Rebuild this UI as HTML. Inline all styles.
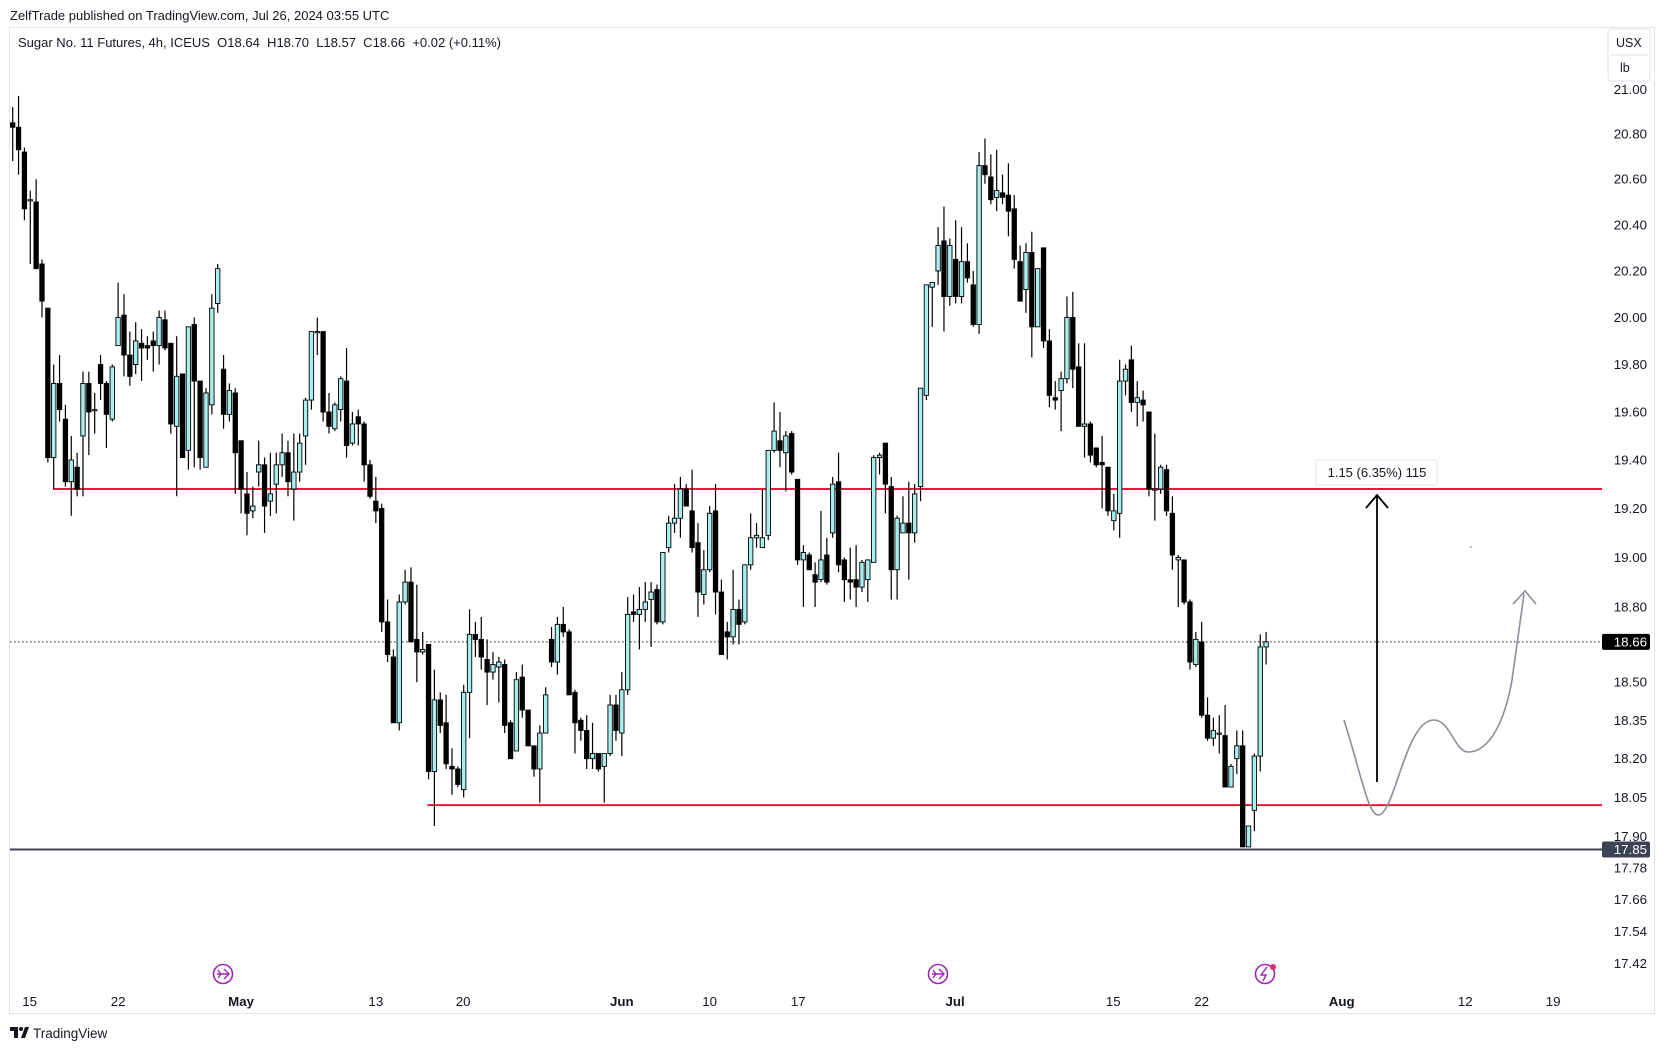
<!DOCTYPE html>
<html><head><meta charset="utf-8"><style>
html,body{margin:0;padding:0;background:#fff;}
svg{display:block;font-family:"Liberation Sans",sans-serif;}
</style></head><body>
<svg id="chart" width="1666" height="1050" viewBox="0 0 1666 1050" xmlns="http://www.w3.org/2000/svg">
<rect x="0" y="0" width="1666" height="1050" fill="#fff"/>
<text x="10" y="20" font-size="13" fill="#131722">ZelfTrade published on TradingView.com, Jul 26, 2024 03:55 UTC</text>
<rect x="9.5" y="27.5" width="1645" height="986" fill="none" stroke="#e0e3eb" stroke-width="1"/>
<text x="18" y="47" font-size="13" fill="#131722" style="white-space:pre" xml:space="preserve">Sugar No. 11 Futures, 4h, ICEUS  O18.64  H18.70  L18.57  C18.66  +0.02 (+0.11%)</text>
<g>
<rect x="1608" y="29" width="42" height="52" rx="3" fill="#fff" stroke="#e0e3eb"/>
<line x1="1610" y1="55" x2="1648" y2="55" stroke="#e0e3eb"/>
<text x="1616" y="47" font-size="12.5" fill="#131722">USX</text>
<text x="1620" y="72" font-size="12.5" fill="#131722">lb</text>
</g>
<g id="grid"></g>
<g id="lines"></g>
<g id="candles"></g>
<g id="yaxis"></g>
<g id="xaxis"></g>
<g>
<path d="M1344,720 C1360,770 1368,815 1378,815 C1395,815 1405,720 1434,720 C1450,720 1455,752 1468,752 C1490,752 1505,720 1512,680 L1524,594" fill="none" stroke="#8a8e99" stroke-width="1.6"/>
<path d="M1513,604 L1525,591 L1536,604" fill="none" stroke="#8a8e99" stroke-width="1.6"/>
<circle cx="1471" cy="547" r="0.9" fill="#8a8e99"/>
</g>
<g>
<line x1="1377" y1="782" x2="1377" y2="496" stroke="#000" stroke-width="1.8"/>
<path d="M1366,508 L1377,495 L1388,508" fill="none" stroke="#000" stroke-width="1.8"/>
<rect x="1316" y="460" width="121" height="25" rx="2" fill="#fff" stroke="#e0e3eb"/>
<text x="1377" y="477" font-size="13" text-anchor="middle" fill="#131722">1.15 (6.35%) 115</text>
</g>
<g>
<circle cx="223" cy="974" r="9.5" fill="#fff" stroke="#9c27b0" stroke-width="1.6"/>
<path d="M217,974 L229,974 M224,969 L229,974 L224,979 M218,970 L221,974 L218,978" fill="none" stroke="#9c27b0" stroke-width="1.4"/>
<circle cx="938" cy="974" r="9.5" fill="#fff" stroke="#9c27b0" stroke-width="1.6"/>
<path d="M932,974 L944,974 M939,969 L944,974 L939,979 M933,970 L936,974 L933,978" fill="none" stroke="#9c27b0" stroke-width="1.4"/>
<circle cx="1265" cy="974" r="9.5" fill="#fff" stroke="#9c27b0" stroke-width="1.6"/>
<path d="M1267,967 L1261,975 L1266,975 L1263,981" fill="none" stroke="#9c27b0" stroke-width="1.4"/>
<circle cx="1273" cy="967" r="3" fill="#f0286c"/>
</g>
<g>
<path d="M10,1027 h8 v11 h-4 v-7 h-4 z M21,1038 l4,-11 h4 l-4,11 z" fill="#131722"/>
<circle cx="21" cy="1029" r="2" fill="#131722"/>
<text x="33" y="1038" font-size="13.5" fill="#131722">TradingView</text>
</g>
</svg>
<script>
const opens=[20.85,20.83,20.72,20.51,20.50,20.23,20.04,19.41,19.72,19.57,19.31,19.37,19.50,19.72,19.61,19.80,19.72,19.57,19.88,20.01,19.84,19.80,19.89,19.88,19.90,19.88,19.99,19.89,19.54,19.76,19.44,19.97,19.73,19.37,19.63,20.06,19.78,19.59,19.68,19.48,19.26,19.19,19.35,19.38,19.23,19.30,19.38,19.43,19.28,19.35,19.50,19.65,19.94,19.94,19.60,19.53,
19.61,19.73,19.47,19.58,19.55,19.38,19.23,19.20,18.74,18.60,18.34,18.82,18.90,18.67,18.62,18.65,18.15,18.43,18.34,18.17,18.16,18.08,18.46,18.69,18.67,18.59,18.54,18.56,18.57,18.34,18.23,18.52,18.39,18.25,18.16,18.30,18.67,18.58,18.73,18.70,18.46,18.35,18.31,18.20,18.22,18.17,18.22,18.41,18.30,18.47,18.78,18.77,18.79,18.83,18.87,
18.74,19.04,19.14,19.16,19.28,19.19,19.06,18.85,18.95,19.19,18.86,18.70,18.68,18.79,18.74,18.97,19.08,19.04,19.09,19.44,19.48,19.43,19.51,19.32,18.99,19.01,18.93,18.91,19.01,19.10,19.31,18.99,18.91,18.91,18.88,18.91,18.98,19.41,19.47,19.29,18.95,19.10,19.14,19.10,19.29,19.67,20.13,20.20,20.33,20.09,20.25,20.09,20.24,20.14,19.97,
20.66,20.61,20.52,20.54,20.53,20.47,20.24,20.12,20.28,19.96,20.30,19.90,19.66,19.69,19.74,20.00,19.79,19.54,19.55,19.45,19.39,19.37,19.15,19.18,19.73,19.82,19.64,19.65,19.60,19.28,19.28,19.36,19.18,18.99,18.99,18.82,18.57,18.66,18.37,18.28,18.30,18.29,18.09,18.20,18.25,17.86,18.00,18.21,18.64];
const highs=[20.92,20.97,20.74,20.55,20.60,20.25,20.04,19.80,19.84,19.63,19.50,19.43,19.77,19.77,19.68,19.84,19.73,19.80,20.15,20.10,19.94,19.98,19.95,19.92,19.94,20.03,20.03,19.89,19.92,19.76,19.96,20.00,19.73,19.70,20.10,20.23,19.84,19.72,19.70,19.48,19.35,19.29,19.48,19.41,19.43,19.43,19.51,19.48,19.51,19.51,19.66,19.94,20.00,19.94,19.68,19.64,
19.75,19.87,19.60,19.61,19.56,19.40,19.33,19.22,18.83,18.63,18.85,18.95,18.96,18.89,18.70,18.65,18.55,18.46,18.45,18.24,18.17,18.49,18.79,18.74,18.76,18.67,18.62,18.60,18.59,18.35,18.54,18.57,18.39,18.25,18.33,18.48,18.72,18.76,18.80,18.71,18.47,18.36,18.37,18.34,18.22,18.22,18.45,18.45,18.54,18.84,18.85,18.88,18.90,18.90,18.89,
19.02,19.17,19.30,19.33,19.30,19.36,19.14,19.03,19.21,19.30,18.91,18.74,18.95,18.83,18.97,19.18,19.14,19.28,19.44,19.64,19.60,19.52,19.52,19.32,19.05,19.02,18.98,19.19,19.08,19.33,19.43,19.00,19.04,19.05,18.99,18.99,19.42,19.43,19.47,19.33,19.17,19.25,19.31,19.30,19.70,20.14,20.15,20.39,20.48,20.34,20.42,20.39,20.32,20.20,20.72,
20.78,20.71,20.73,20.62,20.67,20.53,20.31,20.32,20.37,20.21,20.30,19.95,19.73,19.77,20.09,20.11,19.89,19.89,19.56,19.45,19.50,19.37,19.26,19.82,19.80,19.88,19.73,19.69,19.60,19.51,19.38,19.38,19.25,19.01,18.99,18.83,18.70,18.74,18.44,18.36,18.37,18.41,18.18,18.31,18.31,17.94,18.22,18.69,18.70];
const lows=[20.68,20.62,20.42,20.23,20.21,20.00,19.39,19.28,19.56,19.29,19.17,19.25,19.25,19.42,19.51,19.65,19.45,19.56,19.88,19.75,19.71,19.76,19.73,19.82,19.77,19.80,19.86,19.51,19.25,19.41,19.36,19.37,19.36,19.37,19.59,20.02,19.53,19.56,19.26,19.18,19.09,19.16,19.29,19.10,19.17,19.18,19.33,19.25,19.15,19.31,19.38,19.61,19.84,19.56,19.51,19.52,
19.56,19.41,19.46,19.46,19.31,19.24,19.14,18.70,18.58,18.34,18.31,18.81,18.66,18.50,18.61,18.12,17.94,18.30,18.16,18.06,18.09,18.05,18.28,18.60,18.55,18.41,18.51,18.42,18.30,18.20,18.23,18.36,18.25,18.13,18.03,18.30,18.56,18.53,18.68,18.45,18.22,18.27,18.16,18.16,18.15,18.03,18.21,18.27,18.21,18.45,18.74,18.63,18.74,18.64,18.73,
18.73,19.02,19.10,19.08,19.21,19.02,18.76,18.81,18.94,18.77,18.61,18.59,18.65,18.65,18.73,18.95,19.04,19.04,19.07,19.43,19.37,19.27,19.34,18.97,18.80,18.95,18.80,18.90,18.89,19.08,18.94,18.82,18.83,18.80,18.86,18.82,18.98,19.34,19.18,18.83,18.83,19.10,18.91,19.06,19.23,19.65,19.96,20.14,19.94,20.05,20.06,20.06,20.15,19.96,19.93,
20.58,20.49,20.46,20.49,20.35,20.21,20.07,20.02,19.83,19.96,19.87,19.62,19.61,19.52,19.72,19.70,19.54,19.41,19.39,19.37,19.20,19.17,19.11,19.08,19.67,19.60,19.54,19.56,19.25,19.15,19.26,19.17,18.95,18.80,18.81,18.55,18.56,18.36,18.27,18.25,18.22,18.09,18.09,18.14,17.86,17.86,17.92,18.15,18.57];
const closes=[20.83,20.73,20.47,20.51,20.21,20.07,19.41,19.72,19.61,19.31,19.40,19.28,19.72,19.60,19.61,19.72,19.59,19.79,20.00,19.84,19.75,19.90,19.87,19.87,19.88,20.00,19.87,19.55,19.75,19.41,19.96,19.73,19.41,19.68,20.04,20.21,19.59,19.69,19.43,19.28,19.18,19.21,19.38,19.21,19.26,19.38,19.43,19.31,19.35,19.47,19.65,19.94,19.94,19.60,19.54,19.63,
19.74,19.46,19.55,19.55,19.38,19.25,19.19,18.74,18.61,18.34,18.82,18.90,18.66,18.62,18.63,18.15,18.43,18.33,18.18,18.16,18.10,18.46,18.69,18.67,18.60,18.54,18.57,18.58,18.33,18.20,18.51,18.39,18.25,18.16,18.30,18.45,18.58,18.73,18.70,18.45,18.34,18.31,18.20,18.22,18.16,18.22,18.41,18.31,18.47,18.77,18.77,18.79,18.82,18.86,18.74,
19.02,19.14,19.16,19.28,19.21,19.04,18.86,18.95,19.18,18.86,18.61,18.68,18.79,18.73,18.97,19.08,19.09,19.08,19.44,19.52,19.44,19.50,19.35,18.99,19.02,18.95,18.90,18.99,18.90,19.30,18.97,18.91,18.90,18.88,18.98,18.99,19.41,19.42,19.30,18.95,19.16,19.14,19.10,19.26,19.70,20.14,20.15,20.31,20.09,20.31,20.09,20.24,20.17,19.97,20.66,
20.62,20.51,20.55,20.52,20.46,20.25,20.07,20.28,19.96,20.21,19.90,19.67,19.65,19.74,20.00,19.78,19.54,19.55,19.42,19.38,19.38,19.19,19.19,19.73,19.78,19.64,19.66,19.63,19.28,19.28,19.37,19.19,19.01,19.00,18.82,18.58,18.67,18.37,18.28,18.31,18.30,18.09,18.17,18.25,17.86,17.94,18.21,18.64,18.66];
const priceTicks=[21.00,20.80,20.60,20.40,20.20,20.00,19.80,19.60,19.40,19.20,19.00,18.80,18.50,18.35,18.20,18.05,17.90,17.78,17.66,17.54,17.42];
const dateLabels=["15","22","May","13","20","Jun","10","17","Jul","15","22","Aug","12","19"];
const dateIdx=[2.9,18.0,39.0,62.0,76.9,104.0,119.0,134.1,160.9,187.9,203.0,226.9,248.0,263.0];
const supportLevels=[19.28,18.02];
const supportStartIdx=[6.9,70.8];
const lastPrice=18.66;
const lowLevel=17.85;

const NS="http://www.w3.org/2000/svg";
function yOf(p){return 89.25+4678*Math.log(21/p);}
function xOf(i){return 12.7+i*5.857;}
function mk(tag,attrs,parent){const e=document.createElementNS(NS,tag);for(const k in attrs)e.setAttribute(k,attrs[k]);parent.appendChild(e);return e;}
const PR=1602;
const lines=document.getElementById('lines');
let dl=mk('line',{x1:10,x2:PR,y1:yOf(lastPrice),y2:yOf(lastPrice),stroke:'#131722','stroke-width':1,'stroke-dasharray':'1.5 2.5'},lines);


supportLevels.forEach((lv,k)=>{
  const l=mk('line',{x1:xOf(supportStartIdx[k]),x2:PR,y1:yOf(lv),y2:yOf(lv),stroke:'#f5133d','stroke-width':2},lines);
  
  
});
let ll=mk('line',{x1:10,x2:PR,y1:yOf(lowLevel),y2:yOf(lowLevel),stroke:'#3c4353','stroke-width':2},lines);



const cg=document.getElementById('candles');
for(let i=0;i<closes.length;i++){
  const o=opens[i],c=closes[i],h=highs[i],l=lows[i];
  const x=xOf(i),up=c>=o;
  const g=mk('g',{},cg);
  
  
  mk('line',{x1:x,x2:x,y1:yOf(h),y2:yOf(l),stroke:'#000','stroke-width':1.2},g);
  const top=yOf(Math.max(o,c)),bot=yOf(Math.min(o,c));
  mk('rect',{x:x-2.2,y:top,width:4.4,height:Math.max(bot-top,1.2),fill:up?'#a6eef0':'#000',stroke:'#000','stroke-width':0.9},g);
}
const ya=document.getElementById('yaxis');
priceTicks.forEach(p=>{
  const t=mk('text',{x:1647,y:yOf(p)+4.5,'font-size':13.3,'text-anchor':'end',fill:'#131722'},ya);
  t.textContent=p.toFixed(2);
  
  
});
function tag(p,col,name){
  const g=mk('g',{},ya);
  
  
  mk('rect',{x:1602,y:yOf(p)-8,width:48,height:16,rx:2,fill:col},g);
  const t=mk('text',{x:1647,y:yOf(p)+4.5,'font-size':13.3,'text-anchor':'end',fill:'#fff'},g);
  t.textContent=p.toFixed(2);
}
tag(lastPrice,'#000','last-price-tag');
tag(lowLevel,'#3c4353','low-level-tag');
const xa=document.getElementById('xaxis');
dateLabels.forEach((s,k)=>{
  const t=mk('text',{x:xOf(dateIdx[k]),y:1006,'font-size':13.3,'text-anchor':'middle',fill:'#131722','font-weight':(s.length>2?'bold':'normal')},xa);
  t.textContent=s;
  
  
});
</script>
</body></html>
